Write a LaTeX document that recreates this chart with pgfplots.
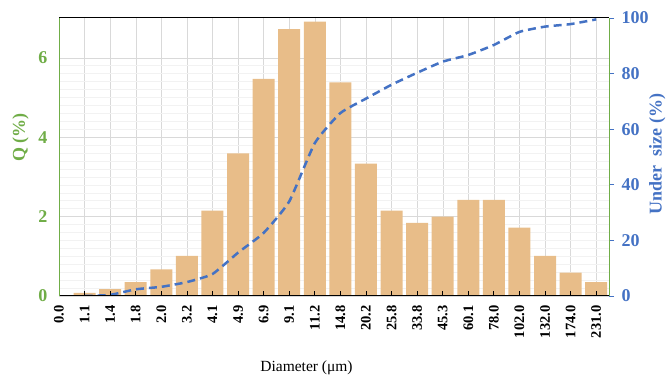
\documentclass[border=0pt]{standalone}
\usepackage{pgfplots}
\pgfplotsset{compat=1.18}
\usepackage{fontspec}
\setmainfont{Liberation Serif}
\definecolor{qgreen}{HTML}{70AD47}
\definecolor{ublue}{HTML}{4472C4}
\definecolor{bartan}{HTML}{E8BD89}
\begin{document}
\begin{tikzpicture}
\begin{axis}[name=ax1, scale only axis, width=550pt, height=278pt,
  set layers, axis on top,
  xmin=0, xmax=21.5, ymin=0, ymax=7,
  separate axis lines,
  x axis line style={black, line width=1pt},
  y axis line style={qgreen, line width=1pt},
  xtick={0,...,21},
  xticklabels={0.0,1.1,1.4,1.8,2.0,3.2,4.1,4.9,6.9,9.1,11.2,14.8,20.2,25.8,33.8,45.3,60.1,78.0,102.0,132.0,174.0,231.0},
  xtick pos=bottom, xtick align=inside,
  x tick style={black, line width=0.8pt}, major tick length=5pt,
  xticklabel shift=6pt,
  x tick label style={rotate=90, anchor=east, font=\bfseries\fontsize{14.5}{14.5}\selectfont},
  ytick={0,2,4,6}, ytick pos=left,
  y tick style={draw=none},
  yticklabel shift=8pt,
  y tick label style={text=qgreen, font=\bfseries\fontsize{18}{18}\selectfont},
  /pgf/number format/assume math mode=true,
  minor y tick num=9,
  ymajorgrids, yminorgrids, xmajorgrids,
  major grid style={gray!30, /pgfplots/on layer=axis background},
  minor grid style={gray!10, /pgfplots/on layer=axis background},
  ylabel={Q (\%)},
  ylabel style={text=qgreen, font=\bfseries\fontsize{18}{18}\selectfont, at={(axis description cs:-0.07,0.57)}, anchor=center},
  xlabel={Diameter (μm)},
  xlabel style={font=\fontsize{15.5}{15.5}\selectfont, at={(axis description cs:0.45,-0.26)}, anchor=center},
]
\addplot[ybar, bar width=0.86, fill=bartan, draw=none] coordinates {
(1,0.08) (2,0.17) (3,0.35) (4,0.67) (5,1.01) (6,2.15) (7,3.59) (8,5.47) (9,6.72) (10,6.91)
(11,5.38) (12,3.33) (13,2.15) (14,1.84) (15,2.0) (16,2.42) (17,2.42) (18,1.72) (19,1.01) (20,0.59) (21,0.35)};
\end{axis}
\begin{axis}[scale only axis, width=550pt, height=278pt,
  xmin=0, xmax=21.5, ymin=0, ymax=100,
  axis x line=none, axis y line*=right,
  y axis line style={ublue, line width=1pt},
  ytick={0,20,...,100},
  y tick style={ublue, line width=0.8pt}, ytick align=outside, major tick length=5pt,
  yticklabel shift=4pt,
  y tick label style={text=ublue, font=\bfseries\fontsize{18}{18}\selectfont},
  /pgf/number format/assume math mode=true,
  ylabel={Under\ \ size (\%)},
  ylabel style={text=ublue, font=\bfseries\fontsize{18}{18}\selectfont, at={(axis description cs:1.088,0.51)}, anchor=center},
]
\addplot[ublue, line width=2.5pt, dash pattern=on 8pt off 5pt, smooth, tension=0.3] coordinates {
(1,0) (2,0.4) (3,2.4) (4,3.3) (5,5) (6,7.9) (7,15.6) (8,22.7) (9,34) (10,55) (11,65.8)
(12,71) (13,76) (14,80.3) (15,84.3) (16,86.7) (17,90.3) (18,95) (19,96.9) (20,97.8) (21,99.5)};
\end{axis}
\pgfresetboundingbox
\path ([shift={(-59pt,-86pt)}]ax1.south west) rectangle ([shift={(58pt,18pt)}]ax1.north east);
\end{tikzpicture}
\end{document}
